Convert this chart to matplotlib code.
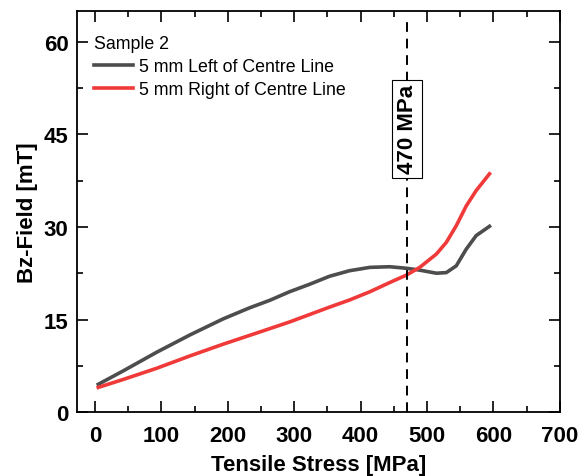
import matplotlib.pyplot as plt
import numpy as np
from matplotlib.ticker import MultipleLocator

plt.rcParams['font.family'] = ['Liberation Sans', 'DejaVu Sans']

# values
stress_left = [5, 43, 93, 143, 193, 233, 263, 293, 323, 353, 383, 414, 444, 469, 489,
               504, 514, 529, 544, 559, 574, 594]
field_left = [4.5, 6.7, 9.7, 12.5, 15.1, 16.9, 18.1, 19.5, 20.7, 22.0, 22.9, 23.45, 23.55, 23.3, 23.0,
              22.7, 22.5, 22.6, 23.7, 26.4, 28.6, 30.1]

stress_right = [5, 43, 93, 143, 193, 246, 293, 323, 353, 383, 414, 444, 469, 489,
                514, 529, 544, 559, 574, 594]
field_right = [4.0, 5.3, 7.1, 9.1, 11.0, 12.9, 14.6, 15.8, 17.0, 18.15, 19.5, 21.0, 22.2, 23.45,
               25.6, 27.5, 30.2, 33.4, 35.9, 38.6]

marker_stress = 470
marker_label = '470 MPa'

fig = plt.figure(figsize=(5.79, 4.77), dpi=100)
ax = fig.add_axes([0.133, 0.134, 0.834, 0.841])

ax.plot(stress_left, field_left, color='#4d4d4d', lw=2.6, label='5 mm Left of Centre Line',
        solid_joinstyle='round')
ax.plot(stress_right, field_right, color='#f03a3a', lw=2.6, label='5 mm Right of Centre Line',
        solid_joinstyle='round')

ax.axvline(marker_stress, ymax=0.98, color='black', ls=(0, (5, 3.5)), lw=1.4)
ax.text(marker_stress, 45.9, marker_label, rotation=90, ha='center', va='center',
        fontsize=16, fontweight='bold',
        bbox=dict(facecolor='white', edgecolor='black', lw=0.8, pad=3))

ax.set_xlim(-27, 700)
ax.set_ylim(0, 65)
ax.xaxis.set_major_locator(MultipleLocator(100))
ax.xaxis.set_minor_locator(MultipleLocator(50))
ax.yaxis.set_major_locator(MultipleLocator(15))
ax.yaxis.set_minor_locator(MultipleLocator(7.5))
ax.tick_params(which='both', direction='in', top=True, right=True, width=1.2)
ax.tick_params(which='major', length=8, labelsize=16)
ax.tick_params(axis='x', which='major', pad=9)
ax.tick_params(axis='y', which='major', pad=6)
ax.tick_params(which='minor', length=4)
for lbl in ax.get_xticklabels() + ax.get_yticklabels():
    lbl.set_fontweight('bold')
for sp in ax.spines.values():
    sp.set_linewidth(1.3)

ax.set_xlabel('Tensile Stress [MPa]', fontsize=16, fontweight='bold', labelpad=6)
ax.set_ylabel('Bz-Field [mT]', fontsize=16, fontweight='bold', labelpad=4)

leg = ax.legend(title='Sample 2', loc='upper left', frameon=False, fontsize=12.8,
                title_fontsize=12.8, handlelength=2.15, handletextpad=0.35,
                borderaxespad=0.3, labelspacing=0.35, bbox_to_anchor=(0.01, 0.972))
leg._legend_box.align = 'left'

fig.savefig('out.png', dpi=100)
